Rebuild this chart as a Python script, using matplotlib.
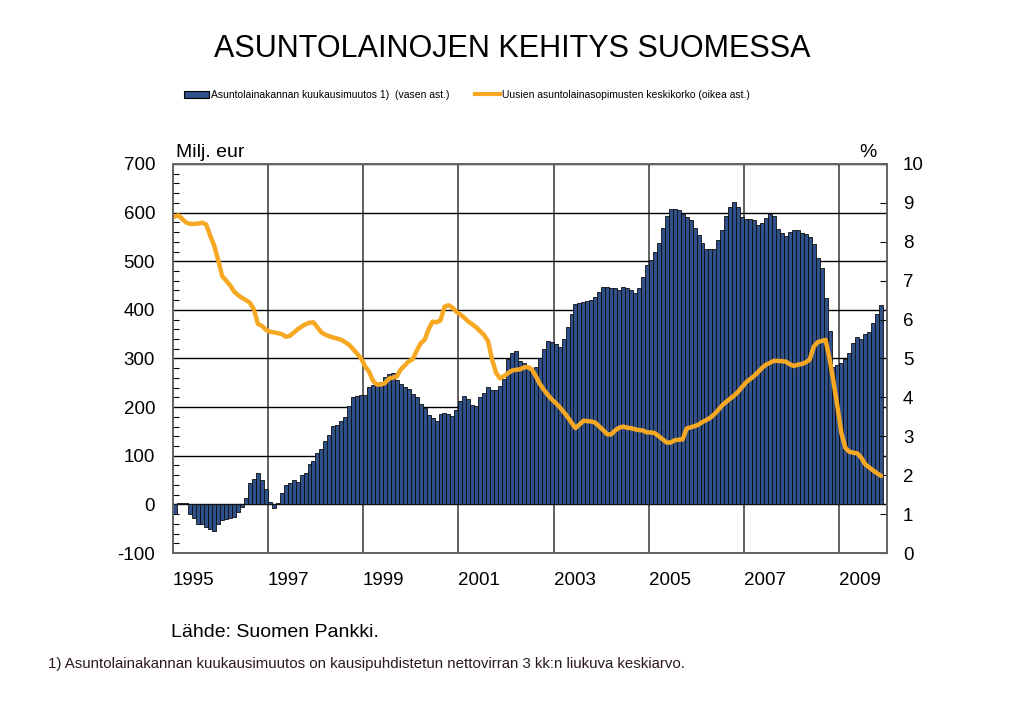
import matplotlib
matplotlib.use("Agg")
import matplotlib.pyplot as plt
from matplotlib.patches import Patch
from matplotlib.lines import Line2D
from matplotlib.ticker import MultipleLocator

plt.rcParams['font.family'] = ['Liberation Sans', 'DejaVu Sans']
plt.rcParams['axes.unicode_minus'] = False

BAR_COLOR = '#2F5089'
LINE_COLOR = '#F7A823'

years = ["1995", "1997", "1999", "2001", "2003", "2005", "2007", "2009"]

# monthly change of housing loan stock, milj. eur (Jan 1995 - Nov 2009)
loan_change = [
    -20, 2, 2, 2, -20, -29, -41, -40, -46, -51, -55, -41,          # 1995
    -32, -30, -29, -25, -15, -5, 14, 43, 53, 64, 51, 31,           # 1996
    4, -8, 2, 23, 40, 45, 51, 46, 60, 64, 83, 89,                  # 1997
    106, 113, 131, 142, 161, 163, 171, 180, 203, 220, 223, 225,    # 1998
    225, 242, 245, 250, 252, 262, 268, 270, 255, 247, 242, 238,    # 1999
    228, 220, 206, 199, 184, 177, 172, 186, 187, 186, 182, 194,    # 2000
    213, 223, 216, 204, 202, 220, 230, 242, 235, 235, 244, 257,    # 2001
    299, 312, 316, 295, 290, 283, 279, 282, 302, 319, 336, 334,    # 2002
    329, 324, 340, 365, 392, 412, 414, 416, 418, 420, 427, 437,    # 2003
    446, 446, 445, 444, 440, 446, 444, 440, 434, 444, 468, 492,    # 2004
    502, 518, 538, 569, 593, 607, 608, 605, 598, 591, 584, 569,    # 2005
    554, 537, 526, 525, 525, 543, 564, 593, 612, 621, 612, 591,    # 2006
    587, 586, 585, 574, 578, 589, 598, 594, 567, 559, 552, 560,    # 2007
    564, 564, 559, 555, 550, 535, 507, 487, 425, 356, 283, 286,    # 2008
    290, 298, 312, 331, 345, 341, 350, 355, 373, 391, 410,         # 2009
]

# average interest rate on new housing loans, %
interest = [
    8.65, 8.68, 8.58, 8.49, 8.46, 8.46, 8.47, 8.49, 8.44, 8.15, 7.90, 7.53,
    7.12, 7.00, 6.88, 6.72, 6.63, 6.56, 6.50, 6.43, 6.26, 5.89, 5.84, 5.74,
    5.69, 5.67, 5.65, 5.63, 5.56, 5.58, 5.66, 5.75, 5.82, 5.88, 5.92, 5.93,
    5.80, 5.67, 5.61, 5.57, 5.54, 5.51, 5.48, 5.42, 5.35, 5.24, 5.12, 5.00,
    4.80, 4.66, 4.42, 4.33, 4.33, 4.37, 4.48, 4.51, 4.54, 4.72, 4.82, 4.93,
    4.98, 5.20, 5.39, 5.48, 5.75, 5.95, 5.93, 5.98, 6.33, 6.37, 6.31, 6.20,
    6.13, 6.05, 5.95, 5.88, 5.80, 5.70, 5.60, 5.44, 4.97, 4.63, 4.49, 4.55,
    4.62, 4.69, 4.71, 4.72, 4.77, 4.78, 4.72, 4.55, 4.35, 4.20, 4.07, 3.95,
    3.86, 3.75, 3.63, 3.50, 3.35, 3.21, 3.30, 3.40, 3.39, 3.38, 3.35, 3.25,
    3.16, 3.05, 3.05, 3.15, 3.22, 3.25, 3.22, 3.21, 3.18, 3.16, 3.15, 3.10,
    3.10, 3.08, 3.00, 2.92, 2.84, 2.84, 2.90, 2.91, 2.92, 3.20, 3.23, 3.26,
    3.30, 3.37, 3.42, 3.48, 3.57, 3.68, 3.80, 3.89, 3.97, 4.05, 4.15, 4.27,
    4.39, 4.47, 4.55, 4.65, 4.76, 4.84, 4.89, 4.94, 4.94, 4.93, 4.92, 4.85,
    4.81, 4.84, 4.86, 4.90, 4.97, 5.30, 5.42, 5.45, 5.48, 5.00, 4.40, 3.76,
    3.08, 2.70, 2.60, 2.58, 2.56, 2.45, 2.28, 2.20, 2.12, 2.05, 1.98,
]

months = list(range(len(loan_change)))

fig = plt.figure(figsize=(10.24, 7.08), dpi=100)
ax = fig.add_axes([0.1685, 0.2189, 0.6978, 0.5495])

ax.bar(months, loan_change, width=1.0, color=BAR_COLOR,
       edgecolor='#0d0d0d', linewidth=0.6, zorder=2)
ax.set_xlim(-0.5, 179.5)
ax.set_ylim(-100, 700)
ax.set_yticks(range(-100, 701, 100))
ax.yaxis.set_minor_locator(MultipleLocator(20))
ax.tick_params(axis='y', which='major', direction='in', length=0,
               pad=12.5, labelsize=13.5)
ax.tick_params(axis='y', which='minor', direction='in', length=4, width=0.8)
ax.set_xticks([24 * k - 0.5 for k in range(len(years))])
ax.set_xticklabels(years, ha='left')
ax.tick_params(axis='x', length=0, pad=14, labelsize=13.5)
ax.grid(axis='y', color='black', lw=1.0)
ax.grid(axis='x', color='#555555', lw=1.3)
ax.set_axisbelow(True)

ax2 = ax.twinx()
ax2.plot(months, interest, color=LINE_COLOR, lw=3.2,
         solid_joinstyle='round', solid_capstyle='round')
ax2.set_ylim(0, 10)
ax2.set_yticks(range(0, 11))
ax2.tick_params(axis='y', direction='in', length=5, width=0.8,
                pad=11.5, labelsize=13.5)

for a in (ax, ax2):
    for sp in a.spines.values():
        sp.set_color('#666666')
        sp.set_linewidth(1.3)

fig.text(0.5, 0.9195, "ASUNTOLAINOJEN KEHITYS SUOMESSA", ha='center',
         va='baseline', fontsize=22)
fig.text(0.172, 0.778, "Milj. eur", ha='left', va='baseline', fontsize=14)
fig.text(0.8565, 0.778, "%", ha='right', va='baseline', fontsize=14)

handles = [Patch(facecolor=BAR_COLOR, edgecolor='black', linewidth=0.8),
           Line2D([], [], color=LINE_COLOR, lw=3)]
labels = ["Asuntolainakannan kuukausimuutos 1)  (vasen ast.)",
          "Uusien asuntolainasopimusten keskikorko (oikea ast.)"]
fig.legend(handles, labels, loc='center', bbox_to_anchor=(0.456, 0.866),
           ncol=2, frameon=False, fontsize=7.5, handlelength=2.4,
           handleheight=0.6, handletextpad=0.2, columnspacing=2.4)

fig.text(0.167, 0.1003, "Lähde: Suomen Pankki.", ha='left', va='baseline',
         fontsize=14)
fig.text(0.047, 0.0565,
         "1) Asuntolainakannan kuukausimuutos on kausipuhdistetun "
         "nettovirran 3 kk:n liukuva keskiarvo.",
         ha='left', va='baseline', fontsize=10.8, color='#2a1a1a')

fig.savefig("out.png", dpi=100)
